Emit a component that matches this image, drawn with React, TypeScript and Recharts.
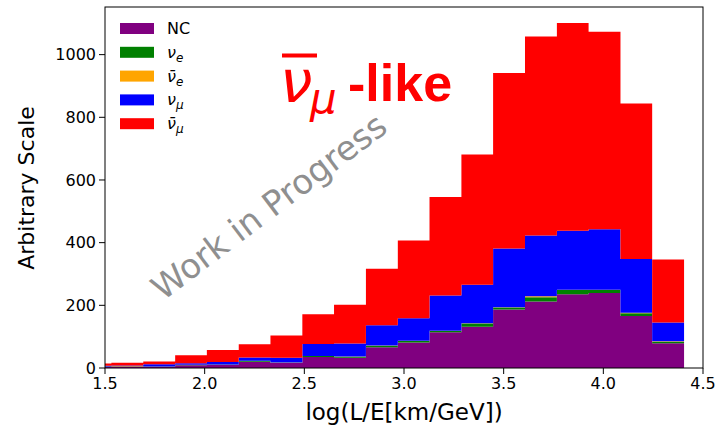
import React from 'react';
import { AreaChart, Area, XAxis, YAxis } from 'recharts';

// bin edges in log(L/E); the first bin is cut by the axis at 1.5
const binEdges = [1.5, 1.532, 1.692, 1.852, 2.011, 2.171, 2.33, 2.49, 2.649, 2.809, 2.969, 3.128, 3.288, 3.447, 3.607, 3.767, 3.926, 4.086, 4.245, 4.405];

const nc = [4, 5, 4, 9, 10, 20, 16, 35, 33, 66, 81, 114, 132, 187, 212, 235, 239, 166, 79];
const nuE = [0.5, 0.5, 0.5, 0.5, 1, 3, 1, 3, 3, 5, 5, 4, 10, 6, 14, 14, 10, 9, 5];
const nuEBar = [0.5, 0.5, 0.5, 0.5, 0.5, 0.5, 0.5, 0.5, 0.5, 0.5, 1, 1, 1, 1, 3, 1, 1, 1, 1];
const nuMu = [2, 2, 7, 5, 8, 10, 15, 38, 42, 65, 72, 112, 123, 187, 194, 188, 193, 172, 60];
const nuMuBar = [7, 9, 9, 26, 38, 42, 71, 95, 123, 180, 248, 315, 415, 560, 635, 663, 630, 496, 201];

const xTicks = [1.5, 2.0, 2.5, 3.0, 3.5, 4.0, 4.5];
const yTicks = [0, 200, 400, 600, 800, 1000];

const series = [
    { key: 'nc', color: '#800080' },
    { key: 'nuE', color: '#008000' },
    { key: 'nuEBar', color: '#ffa500' },
    { key: 'nuMu', color: '#0000ff' },
    { key: 'nuMuBar', color: '#ff0000' },
];

// last edge repeats the last bin so the step closes at 4.405
const data = binEdges.map((x, i) => {
    const j = Math.min(i, nc.length - 1);
    return { x, nc: nc[j], nuE: nuE[j], nuEBar: nuEBar[j], nuMu: nuMu[j], nuMuBar: nuMuBar[j] };
});

const font = 'DejaVu Sans, sans-serif';

const Legend = () => {
    const rows = [
        { color: '#800080', label: <tspan>NC</tspan> },
        { color: '#008000', label: <><tspan fontStyle="italic">ν</tspan><tspan fontStyle="italic" fontSize={12} dy={4}>e</tspan></> },
        { color: '#ffa500', label: <><tspan fontStyle="italic">ν̄</tspan><tspan fontStyle="italic" fontSize={12} dy={4}>e</tspan></> },
        { color: '#0000ff', label: <><tspan fontStyle="italic">ν</tspan><tspan fontStyle="italic" fontSize={12} dy={4}>μ</tspan></> },
        { color: '#ff0000', label: <><tspan fontStyle="italic">ν̄</tspan><tspan fontStyle="italic" fontSize={12} dy={4}>μ</tspan></> },
    ];
    return (
        <g fontFamily={font} fontSize={16}>
            {rows.map((r, i) => (
                <g key={i}>
                    <rect x={120} y={23 + i * 23.8} width={34} height={11} fill={r.color} />
                    <text x={167} y={34 + i * 23.8} fill="#000">{r.label}</text>
                </g>
            ))}
        </g>
    );
};

const App = () => {
    return (
        <div style={{ position: 'absolute', left: 0, top: 0, width: 716, height: 427, background: '#fff' }}>
            <AreaChart width={716} height={427} data={data} margin={{ top: 7, right: 13, bottom: 0, left: 0 }}>
                <XAxis
                    dataKey="x"
                    type="number"
                    domain={[1.5, 4.5]}
                    ticks={xTicks}
                    tickFormatter={(v: number) => v.toFixed(1)}
                    height={59}
                    axisLine={false}
                    tickSize={6}
                    tickMargin={4}
                    tickLine={{ stroke: '#000' }}
                    tick={{ fill: '#000', fontSize: 16, fontFamily: font }}
                    label={{ value: 'log(L/E[km/GeV])', position: 'insideBottom', offset: 7, fill: '#000', fontSize: 23, fontFamily: font }}
                />
                <YAxis
                    type="number"
                    domain={[0, 1152]}
                    ticks={yTicks}
                    width={105}
                    axisLine={false}
                    tickSize={6}
                    tickMargin={3}
                    tickLine={{ stroke: '#000' }}
                    tick={{ fill: '#000', fontSize: 16, fontFamily: font }}
                />
                {series.map((s) => (
                    <Area
                        key={s.key}
                        type="stepAfter"
                        dataKey={s.key}
                        stackId="1"
                        stroke="none"
                        fill={s.color}
                        fillOpacity={1}
                        isAnimationActive={false}
                    />
                ))}
            </AreaChart>
            <svg width={716} height={427} style={{ position: 'absolute', left: 0, top: 0, pointerEvents: 'none' }}>
                <rect x={105} y={7} width={598} height={361} fill="none" stroke="#000" strokeWidth={1} />
                <text transform="rotate(-90, 34, 188)" x={34} y={188} textAnchor="middle" fontFamily={font} fontSize={22} fill="#000">
                    Arbitrary Scale
                </text>
                <Legend />
                <text
                    transform="rotate(-37, 276, 216)"
                    x={276}
                    y={216}
                    textAnchor="middle"
                    fontFamily={font}
                    fontSize={34}
                    fill="#8f8f8f"
                >
                    Work in Progress
                </text>
                <line x1={282} x2={317} y1={55.5} y2={55.5} stroke="#ff0000" strokeWidth={4} />
                <text x={280} y={102} fontFamily={font} fontStyle="italic" fontSize={58} fill="#ff0000">ν</text>
                <text x={310} y={113} fontFamily={font} fontStyle="italic" fontSize={42} fill="#ff0000">μ</text>
                <text x={348} y={101} fontFamily="Liberation Sans, Arial, sans-serif" fontWeight="bold" fontSize={52} fill="#ff0000">-like</text>
            </svg>
        </div>
    );
};

export default App;
